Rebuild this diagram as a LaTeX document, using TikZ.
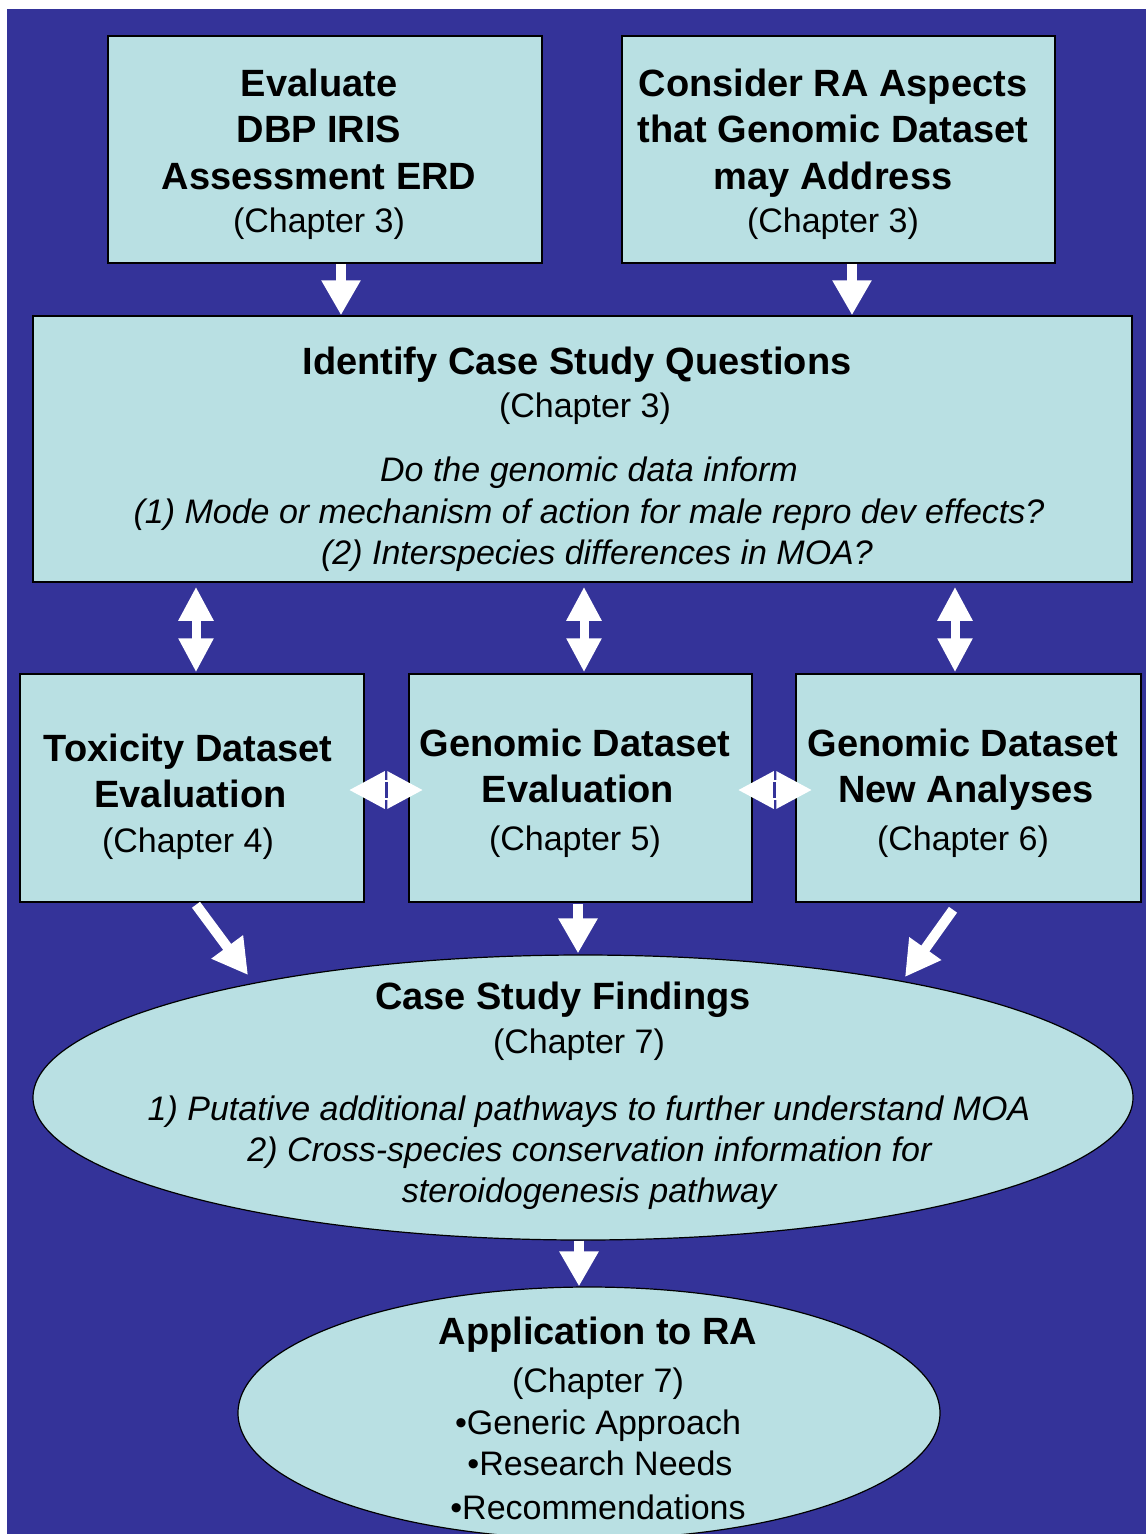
\documentclass[tikz,border=0pt]{standalone}
\usepackage{fontspec}
\setmainfont{Liberation Sans}
\usetikzlibrary{arrows.meta,shapes.geometric,calc}
\definecolor{bgblue}{RGB}{52,51,153}
\definecolor{boxfill}{RGB}{185,224,227}
% bold heading lines
\newcommand\ttlfont{\bfseries\fontsize{38}{42}\selectfont}
% move one centred line sideways by #1
\newcommand\shiftx[2]{\hspace*{#1}#2\hspace*{-#1}}

\begin{document}
\begin{tikzpicture}[x=1pt,y=-1pt,
  box/.style={draw=black, line width=1.5pt, fill=boxfill, rectangle, inner sep=0pt},
  oval/.style={draw=black, line width=1.2pt, fill=boxfill, ellipse, inner sep=0pt},
  txt/.style={align=center, inner sep=0pt, font=\fontsize{34}{42}\selectfont},
  flow/.style={draw=white, line width=10pt, -{Triangle[width=37pt,length=35pt]}},
  dbl/.style={draw=white, line width=9pt, {Triangle[width=33pt,length=34pt]}-{Triangle[width=33pt,length=34pt]}},
  sidearrow/.style={draw=white, line width=20pt, {Triangle[width=35pt,length=36pt]}-{Triangle[width=35pt,length=36pt]}},
  slit/.style={draw=bgblue, line width=3pt},
]

\useasboundingbox (0,0) rectangle (1146,1534);
\fill[white] (0,0) rectangle (1146,1534);
\fill[bgblue] (7,9) rectangle (1146,1534);

% boxes
\node[box, minimum width=434pt, minimum height=227pt] (b1) at (325,149.5) {};
\node[box, minimum width=433pt, minimum height=227pt] (b2) at (838.5,149.5) {};
\node[box, minimum width=1099pt, minimum height=266pt] (b3) at (582.5,449) {};
\node[box, minimum width=344pt, minimum height=228pt] (b4) at (192,788) {};
\node[box, minimum width=343pt, minimum height=228pt] (b5) at (580.5,788) {};
\node[box, minimum width=345pt, minimum height=228pt] (b6) at (968.5,788) {};

% ellipses
\node[oval, minimum width=1100pt, minimum height=285pt] (e1) at (583,1097.5) {};
\node[oval, minimum width=702pt, minimum height=252pt] (e2) at (589,1413) {};

% texts
\node[txt] (t1) at (319,154.5) {{\ttlfont Evaluate}\\[4pt]{\ttlfont DBP IRIS}\\[5pt]{\ttlfont Assessment ERD}\\[1pt](Chapter 3)};
\node[txt] (t2) at (833,154.5) {{\ttlfont Consider RA Aspects}\\[4pt]{\ttlfont that Genomic Dataset}\\[5pt]{\ttlfont may Address}\\[1pt](Chapter 3)};
\node[txt] (t3) at (587,459.5) {{\ttlfont\shiftx{-10pt}{Identify Case Study Questions}}\\[1pt]\shiftx{-4pt}{(Chapter 3)}\\[22pt]{\itshape\shiftx{4pt}{Do the genomic data inform}}\\ {\itshape\shiftx{4pt}{(1) Mode or mechanism of action for male repro dev effects?}}\\[-1pt]{\itshape\shiftx{10pt}{(2) Interspecies differences in MOA?}}};
\node[txt] (t4) at (188,797) {{\ttlfont Toxicity Dataset}\\[4pt]{\ttlfont\shiftx{5pt}{Evaluation}}\\[3pt](Chapter 4)};
\node[txt] (t5) at (575,793.5) {{\ttlfont Genomic Dataset}\\[4pt]{\ttlfont\shiftx{6pt}{Evaluation}}\\[6pt](Chapter 5)};
\node[txt] (t6) at (963,793.5) {{\ttlfont Genomic Dataset}\\[4pt]{\ttlfont\shiftx{6pt}{New Analyses}}\\[6pt](Chapter 6)};
\node[txt] (t7) at (589,1096) {{\ttlfont\shiftx{-26pt}{Case Study Findings}}\\[2pt]\shiftx{-20pt}{(Chapter 7)}\\[25pt]{\itshape 1) Putative additional pathways to further understand MOA}\\[-1pt]{\itshape\shiftx{1pt}{2) Cross-species conservation information for}}\\[-1pt]{\itshape steroidogenesis pathway}};
\node[txt] (t8) at (598,1418.5) {{\ttlfont Application to RA}\\[6pt](Chapter 7)\\[0pt]•Generic Approach\\[-1pt]\shiftx{4pt}{•Research Needs}\\[2pt]•Recommendations};

% connectors
\draw[flow] ($(b1.south)+(16,0)$) -- ($(b3.north)+(-241.5,0)$);
\draw[flow] ($(b2.south)+(13.5,0)$) -- ($(b3.north)+(269.5,0)$);

\draw[dbl] ($(b3.south)+(-386.5,4)$) -- ($(b4.north)+(4,-1)$);
\draw[dbl] ($(b3.south)+(1.5,4)$) -- ($(b5.north)+(3.5,-1)$);
\draw[dbl] ($(b3.south)+(372.5,4)$) -- ($(b6.north)+(-13.5,-1)$);

\draw[sidearrow] ($(b4.east)+(-16,2)$) -- ($(b5.west)+(15,2)$);
\draw[slit] ($(b4.east)!0.5!(b5.west)+(0,-6)$) -- ($(b4.east)!0.5!(b5.west)+(0,10)$);
\draw[sidearrow] ($(b5.east)+(-15,2)$) -- ($(b6.west)+(17,2)$);
\draw[slit] ($(b5.east)!0.5!(b6.west)+(0,-6)$) -- ($(b5.east)!0.5!(b6.west)+(0,10)$);

\draw[flow] ($(b4.south)+(4,2)$) -- ($(e1.center)+(-335,-122.5)$);
\draw[flow] ($(b5.south)+(-2.5,1)$) -- ($(e1.north)+(-5,-1)$);
\draw[flow] ($(b6.south)+(-15.5,7)$) -- ($(e1.center)+(322,-120.5)$);

\draw[flow] ($(e1.south)+(-4,0)$) -- ($(e2.north)+(-10,0)$);
\end{tikzpicture}
\end{document}
